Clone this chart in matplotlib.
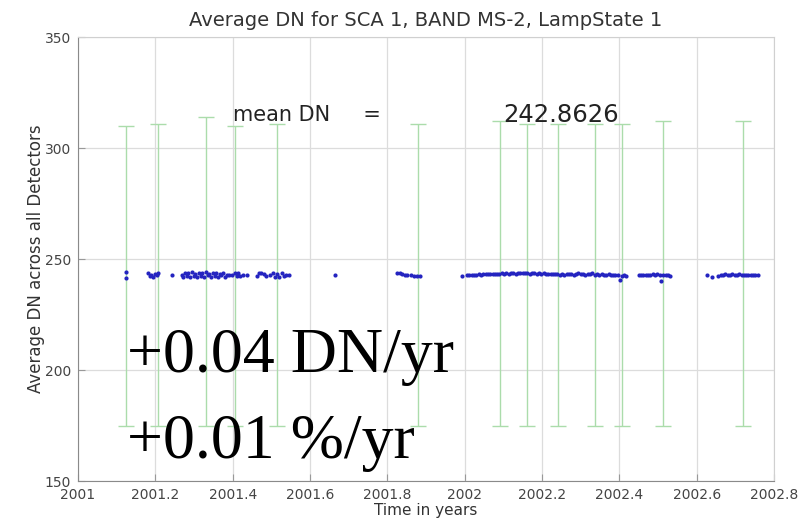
import numpy as np
import matplotlib.pyplot as plt

# Daily average DN (all detectors), SCA 1 band MS-2, lamp state 1
years = [
    2001.124, 2001.125,
    2001.182, 2001.186, 2001.190, 2001.194, 2001.198, 2001.203, 2001.207,
    2001.242,
    2001.268, 2001.272, 2001.276, 2001.281, 2001.285, 2001.290, 2001.294, 2001.299,
    2001.303, 2001.308, 2001.312, 2001.317, 2001.321, 2001.326, 2001.330, 2001.335,
    2001.339, 2001.344, 2001.348, 2001.353, 2001.357, 2001.362, 2001.366, 2001.371,
    2001.376, 2001.380, 2001.385, 2001.390, 2001.397, 2001.405, 2001.410, 2001.415,
    2001.420, 2001.426,
    2001.436,
    2001.462, 2001.468, 2001.474, 2001.480, 2001.486,
    2001.497, 2001.503, 2001.509, 2001.515, 2001.521, 2001.527, 2001.533, 2001.539, 2001.545,
    2001.665,
    2001.826, 2001.832, 2001.838, 2001.845, 2001.852, 2001.860, 2001.868, 2001.876, 2001.884,
    2001.993,
    2002.006, 2002.012, 2002.018, 2002.024, 2002.030, 2002.036, 2002.042, 2002.048,
    2002.054, 2002.060, 2002.066, 2002.072, 2002.078, 2002.084, 2002.090, 2002.096,
    2002.102, 2002.108, 2002.114, 2002.120, 2002.126, 2002.132, 2002.138, 2002.144,
    2002.150, 2002.156, 2002.162, 2002.168, 2002.174, 2002.180, 2002.186, 2002.192,
    2002.198, 2002.204, 2002.210, 2002.216, 2002.222, 2002.228, 2002.234, 2002.240,
    2002.246, 2002.252, 2002.258, 2002.264, 2002.270, 2002.276, 2002.282, 2002.288,
    2002.294, 2002.300, 2002.306, 2002.312, 2002.318, 2002.324, 2002.330, 2002.336,
    2002.342, 2002.348, 2002.354, 2002.360, 2002.366, 2002.372, 2002.378, 2002.384,
    2002.390, 2002.396, 2002.401, 2002.406, 2002.412, 2002.418,
    2002.450, 2002.456, 2002.462, 2002.468, 2002.474, 2002.480, 2002.486, 2002.492,
    2002.498, 2002.504, 2002.509, 2002.514, 2002.520, 2002.526, 2002.531,
    2002.626, 2002.640,
    2002.656, 2002.662, 2002.668, 2002.674, 2002.680, 2002.686, 2002.692, 2002.698,
    2002.704, 2002.710, 2002.716, 2002.722, 2002.728, 2002.734, 2002.740, 2002.746,
    2002.752, 2002.758,
]
avg_dn = [
    244.0, 241.6,
    243.6, 242.2, 243.0, 241.9, 243.4, 242.6, 243.8,
    242.8,
    242.9, 241.9, 243.9, 242.2, 243.6, 241.8, 244.0, 242.5,
    243.4, 241.7, 243.9, 242.3, 243.5, 241.9, 244.1, 242.6,
    243.2, 241.8, 243.8, 242.4, 243.6, 242.0, 243.3, 242.7,
    243.9, 242.1, 243.0, 242.6, 242.8, 243.5, 242.3, 243.7,
    242.5, 242.9,
    242.7,
    242.4, 243.5, 243.9, 243.3, 242.2,
    242.6, 243.8, 242.1, 243.2, 241.9, 243.6, 242.4, 243.0, 242.7,
    242.6,
    243.9, 243.5, 243.2, 243.0, 242.8, 242.7, 242.5, 242.4, 242.3,
    242.3,
    242.6, 242.8, 242.7, 243.0, 242.9, 243.1, 243.0, 243.2,
    243.1, 243.3, 243.2, 243.3, 243.4, 243.2, 243.4, 243.5,
    243.3, 243.5, 243.4, 243.6, 243.5, 243.4, 243.6, 243.5,
    243.7, 243.5, 243.6, 243.4, 243.6, 243.5, 243.4, 243.6,
    243.3, 243.5, 243.4, 243.2, 243.4, 243.3, 243.1, 243.3,
    242.8, 243.2, 243.0, 243.3, 243.1, 243.4, 243.0, 243.2,
    243.5, 243.1, 243.3, 242.9, 243.4, 243.2, 243.6, 243.0,
    243.3, 242.9, 243.2, 243.0, 242.8, 243.1, 242.7, 242.9,
    242.6, 242.8, 240.6, 242.5, 242.7, 242.4,
    242.6, 242.9, 242.8, 243.0, 242.9, 242.7, 243.1, 242.8,
    243.2, 242.9, 240.3, 243.0, 242.6, 242.8, 242.5,
    242.9, 241.9,
    242.4, 242.7, 242.9, 243.1, 243.0, 242.8, 243.2, 243.0,
    242.9, 243.1, 242.8, 243.0, 242.9, 242.7, 242.9, 242.6,
    242.8, 242.6,
]

# Detector spread (min/max) at selected dates
eb_years = [2001.125, 2001.208, 2001.330, 2001.406, 2001.515, 2001.879,
            2002.091, 2002.160, 2002.241, 2002.337, 2002.408, 2002.513, 2002.720]
eb_high = [310.0, 311.0, 313.8, 310.0, 311.0, 311.0,
           312.0, 311.0, 311.0, 311.0, 311.0, 312.0, 312.0]
eb_low = [175.0, 175.0, 175.0, 175.0, 175.0, 175.0,
          175.0, 175.0, 175.0, 175.0, 175.0, 175.0, 175.0]

mean_dn = 242.8626
slope_dn = 0.04
slope_pct = 0.01

xticks = [2001, 2001.2, 2001.4, 2001.6, 2001.8, 2002, 2002.2, 2002.4, 2002.6, 2002.8]
xticklabels = ['2001', '2001.2', '2001.4', '2001.6', '2001.8', '2002',
               '2002.2', '2002.4', '2002.6', '2002.8']
yticks = [150, 200, 250, 300, 350]

fig = plt.figure(figsize=(8.02, 5.19), dpi=100)
ax = fig.add_axes([0.0973, 0.0732, 0.8678, 0.8555])

eb_high = np.array(eb_high)
eb_low = np.array(eb_low)
eb_mid = (eb_high + eb_low) / 2
ax.errorbar(eb_years, eb_mid, yerr=[eb_mid - eb_low, eb_high - eb_mid], fmt='none',
            ecolor='#abdcab', elinewidth=1.0, capsize=6, capthick=1.0, zorder=2)

ax.plot(years, avg_dn, linestyle='none', marker='o', markersize=3.0,
        markeredgewidth=0, color='#2424c0', zorder=3)

ax.set_xlim(2001, 2002.8)
ax.set_ylim(150, 350)
ax.set_xticks(xticks)
ax.set_xticklabels(xticklabels)
ax.set_yticks(yticks)
ax.grid(True, color='#dcdcdc', linewidth=0.9)
ax.set_axisbelow(True)
ax.tick_params(direction='in', length=5, width=0.8, colors='#999999',
               labelcolor='#444444', labelsize=10, pad=5)
for side in ['left', 'bottom']:
    ax.spines[side].set_color('#8a8a8a')
for side in ['top', 'right']:
    ax.spines[side].set_color('#d0d0d0')

ax.set_title('Average DN for SCA 1, BAND MS-2, LampState 1', fontsize=14,
             color='#333333', pad=8)
ax.set_xlabel('Time in years', fontsize=11, color='#333333', labelpad=1)
ax.set_ylabel('Average DN across all Detectors', fontsize=12, color='#333333',
              labelpad=0)

ax.text(0.2227, 0.8243, 'mean DN     =', transform=ax.transAxes, fontsize=15,
        va='center', ha='left', color='#222222')
ax.text(0.6106, 0.8243, f'{mean_dn:.4f}', transform=ax.transAxes, fontsize=17.5,
        va='center', ha='left', color='#222222')

ax.text(0.070, 0.246, f'+{slope_dn:.2f} DN/yr', transform=ax.transAxes,
        fontsize=46, family='Liberation Serif', va='baseline', ha='left', color='black')
ax.text(0.070, 0.052, f'+{slope_pct:.2f} %/yr', transform=ax.transAxes,
        fontsize=46, family='Liberation Serif', va='baseline', ha='left', color='black')

fig.savefig('out.png', dpi=100)
